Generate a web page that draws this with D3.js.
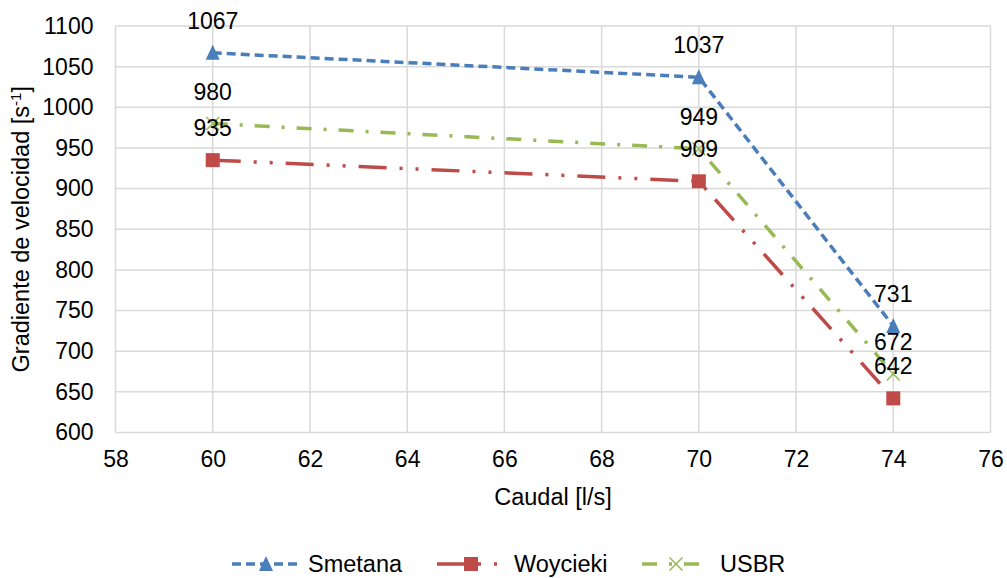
<!DOCTYPE html>
<html>
<head>
<meta charset="utf-8">
<script src="https://cdn.jsdelivr.net/npm/d3@7"></script>
<style>
  html, body { margin: 0; padding: 0; background: #fff; }
  svg { display: block; }
  text { font-family: "Liberation Sans", Arial, sans-serif; fill: #000; }
</style>
</head>
<body>
<svg id="chart" width="1007" height="578"></svg>
<script>
const caudal = [60, 70, 74];
const smetana = [1067, 1037, 731];
const woycieki = [935, 909, 642];
const usbr = [980, 949, 672];
const seriesNames = ["Smetana", "Woycieki", "USBR"];
const xTicks = [58, 60, 62, 64, 66, 68, 70, 72, 74, 76];
const yTicks = [600, 650, 700, 750, 800, 850, 900, 950, 1000, 1050, 1100];

const svg = d3.select("#chart");
const margin = { left: 115.5, right: 990.5, top: 26, bottom: 432.5 };
const x = d3.scaleLinear().domain([58, 76]).range([margin.left, margin.right]);
const y = d3.scaleLinear().domain([600, 1100]).range([margin.bottom, margin.top]);

const grid = "#d9d9d9";
const fs = 23;
const fsT = 23.5;

// gridlines
svg.append("g").selectAll("line").data(yTicks).join("line")
  .attr("x1", margin.left).attr("x2", margin.right)
  .attr("y1", d => y(d)).attr("y2", d => y(d))
  .attr("stroke", grid).attr("stroke-width", 1.5);
svg.append("g").selectAll("line").data(xTicks).join("line")
  .attr("y1", margin.top).attr("y2", margin.bottom)
  .attr("x1", d => x(d)).attr("x2", d => x(d))
  .attr("stroke", grid).attr("stroke-width", 1.5);

// axes
const yAxis = d3.axisLeft(y).tickValues(yTicks).tickFormat(d3.format("d")).tickSize(0).tickPadding(22);
const gy = svg.append("g").attr("transform", `translate(${margin.left},0)`).call(yAxis);
gy.select(".domain").remove();
gy.selectAll("text").style("font-size", fs + "px").style("font-family", "Liberation Sans, Arial, sans-serif").attr("fill", "#000");

const xAxis = d3.axisBottom(x).tickValues(xTicks).tickFormat(d3.format("d")).tickSize(0).tickPadding(18);
const gx = svg.append("g").attr("transform", `translate(0,${margin.bottom})`).call(xAxis);
gx.select(".domain").remove();
gx.selectAll("text").style("font-size", fs + "px").style("font-family", "Liberation Sans, Arial, sans-serif").attr("fill", "#000");

// axis titles
svg.append("text").attr("x", (margin.left + margin.right) / 2).attr("y", 505)
  .attr("text-anchor", "middle").style("font-size", fsT + "px").text("Caudal [l/s]");
const yt = svg.append("text")
  .attr("transform", `translate(29,${(margin.top + margin.bottom) / 2}) rotate(-90)`)
  .attr("text-anchor", "middle").style("font-size", fsT + "px");
yt.append("tspan").text("Gradiente de velocidad [s");
yt.append("tspan").attr("dy", -8).style("font-size", "15px").text("-1");
yt.append("tspan").attr("dy", 8).text("]");

const styles = [
  { color: "#4a7ebb", dash: "9,5", marker: "triangle", values: smetana },
  { color: "#be4b48", dash: "28,13,3,13,3,13", marker: "square", values: woycieki },
  { color: "#98b954", dash: "15,12,3,12", marker: "x", values: usbr }
];

function drawMarker(g, type, cx, cy, color) {
  if (type === "triangle") {
    g.append("path").attr("d", `M${cx},${cy - 8}L${cx + 7},${cy + 7}L${cx - 7},${cy + 7}Z`)
      .attr("fill", color);
  } else if (type === "square") {
    g.append("rect").attr("x", cx - 7).attr("y", cy - 7).attr("width", 14).attr("height", 14).attr("fill", color);
  } else {
    const s = 6.5;
    g.append("path").attr("d", `M${cx - s},${cy - s}L${cx + s},${cy + s}M${cx - s},${cy + s}L${cx + s},${cy - s}`)
      .attr("stroke", color).attr("stroke-width", 1.5).attr("fill", "none");
  }
}

const line = d3.line().x(d => x(d[0])).y(d => y(d[1]));
styles.forEach(s => {
  const pts = caudal.map((c, i) => [c, s.values[i]]);
  const g = svg.append("g");
  g.append("path").attr("d", line(pts)).attr("fill", "none")
    .attr("stroke", s.color).attr("stroke-width", 3.5).attr("stroke-dasharray", s.dash);
  pts.forEach(p => drawMarker(g, s.marker, x(p[0]), y(p[1]), s.color));
});

// data labels
styles.forEach(s => {
  svg.append("g").selectAll("text").data(caudal.map((c, i) => [c, s.values[i]])).join("text")
    .attr("x", d => x(d[0])).attr("y", d => y(d[1]) - 24)
    .attr("text-anchor", "middle").style("font-size", fs + "px").text(d => d[1]);
});

// legend
const legendX = [232, 437, 642];
const legendLen = 68;
const legendTextX = [308, 514, 720];
const ly = 564;
styles.forEach((s, i) => {
  const g = svg.append("g");
  g.append("line").attr("x1", legendX[i]).attr("x2", legendX[i] + legendLen)
    .attr("y1", ly).attr("y2", ly).attr("stroke", s.color).attr("stroke-width", 3.5)
    .attr("stroke-dasharray", s.dash);
  drawMarker(g, s.marker, legendX[i] + legendLen / 2, ly, s.color);
  g.append("text").attr("x", legendTextX[i]).attr("y", ly + 8).style("font-size", fsT + "px").text(seriesNames[i]);
});
</script>
</body>
</html>
